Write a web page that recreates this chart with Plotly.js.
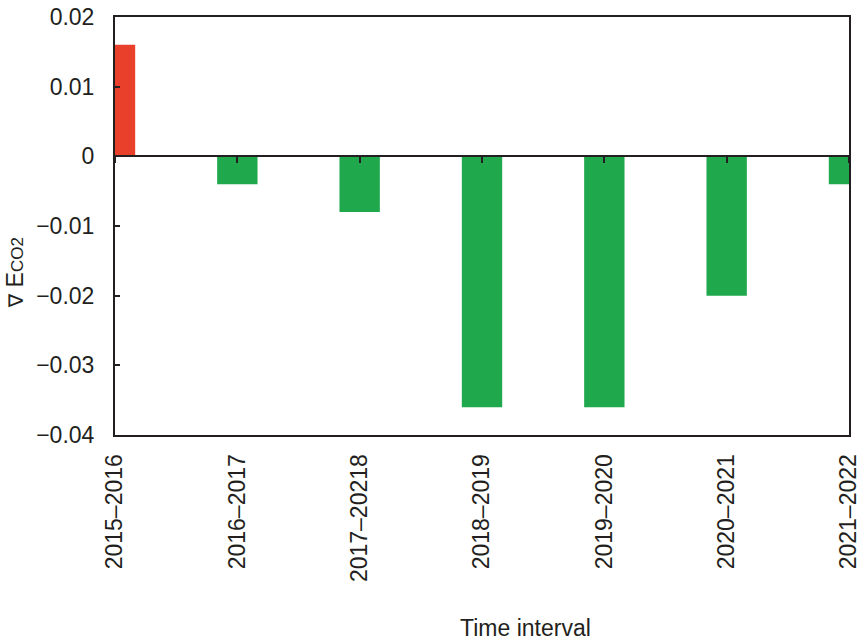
<!DOCTYPE html>
<html>
<head>
<meta charset="utf-8">
<script src="https://cdn.plot.ly/plotly-3.0.1.min.js"></script>
<style>html,body{margin:0;padding:0;background:#fff;}#chart{width:862px;height:643px;}</style>
</head>
<body>
<div id="chart"></div>
<script>
const categories = ["2015–2016", "2016–2017", "2017–20218", "2018–2019", "2019–2020", "2020–2021", "2021–2022"];
const values = [0.016, -0.004, -0.008, -0.036, -0.036, -0.020, -0.004];
const yTicks = [0.02, 0.01, 0, -0.01, -0.02, -0.03, -0.04];

const positions = categories.map((_, i) => i);
const colors = values.map(v => v >= 0 ? "#e8402a" : "#1fa84c");
const axisColor = "#231f20";
const fontFam = "Liberation Sans, Arial, sans-serif";

const trace = {
  type: "bar",
  x: positions,
  y: values,
  xaxis: "x2",
  width: 0.33,
  marker: {color: colors, line: {width: 0}},
  hoverinfo: "x+y",
  showlegend: false
};
const labelTrace = {
  type: "scatter", mode: "markers",
  x: positions, y: values.map(() => null),
  hoverinfo: "skip", showlegend: false
};

const layout = {
  width: 862, height: 643,
  margin: {l: 115, r: 13, t: 17, b: 208},
  paper_bgcolor: "#fff", plot_bgcolor: "#fff",
  font: {family: fontFam, size: 23, color: "#231f20"},
  xaxis: {
    range: [0, positions.length - 1],
    tickmode: "array", tickvals: positions, ticktext: categories,
    tickangle: -90, ticks: "", ticklabelstandoff: 8,
    showline: true, linecolor: axisColor, linewidth: 2, mirror: true,
    showgrid: false, zeroline: false,
    tickfont: {size: 23, color: "#231f20"}
  },
  xaxis2: {
    overlaying: "x", anchor: "free", position: 2/3, side: "bottom",
    range: [0, positions.length - 1],
    tickmode: "array", tickvals: positions,
    showticklabels: false, ticks: "outside", ticklen: 6, tickwidth: 2, tickcolor: axisColor,
    showline: true, linecolor: axisColor, linewidth: 2,
    showgrid: false, zeroline: false, layer: "above traces"
  },
  yaxis: {
    range: [-0.04, 0.02],
    tickmode: "array", tickvals: yTicks,
    ticks: "inside", ticklen: 5, tickwidth: 2, tickcolor: axisColor,
    ticklabelstandoff: 14,
    showline: true, linecolor: axisColor, linewidth: 2, mirror: true,
    showgrid: false, zeroline: false,
    tickfont: {size: 23, color: "#231f20"}
  },
  annotations: [
    {text: "Time interval", xref: "paper", yref: "paper", x: 0.5586, y: -0.4617,
     xanchor: "center", yanchor: "middle", showarrow: false, font: {size: 23, color: "#231f20"}},
    {text: "<span style='font-family:DejaVu Sans;font-size:20px'>∇</span> E<span style='font-size:17px'>CO2</span>", xref: "paper", yref: "paper", x: -0.136, y: 0.3876,
     xanchor: "center", yanchor: "middle", textangle: -90, showarrow: false, font: {size: 23, color: "#231f20"}}
  ]
};

Plotly.newPlot("chart", [labelTrace, trace], layout, {displayModeBar: false, staticPlot: true});
</script>
</body>
</html>
